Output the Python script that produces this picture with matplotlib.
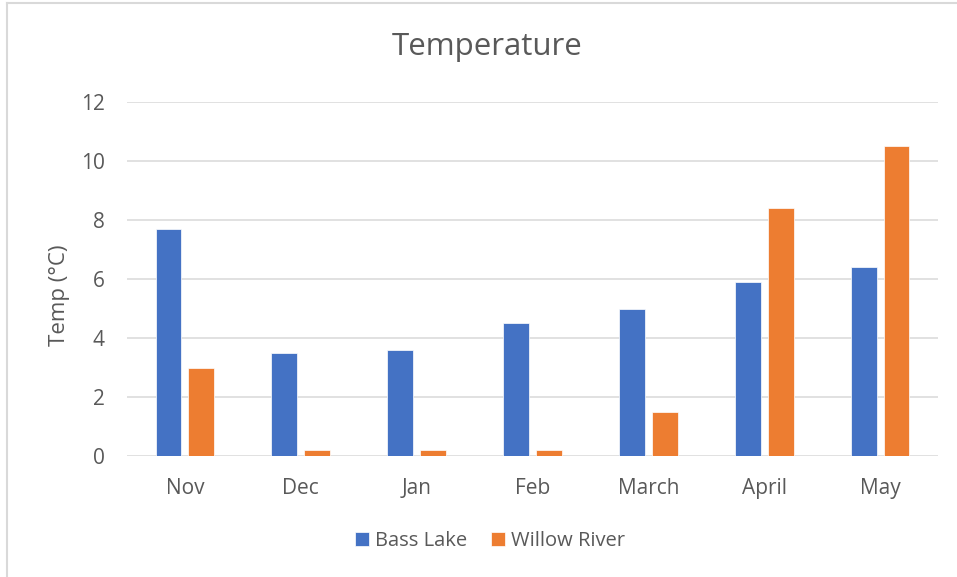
import matplotlib.pyplot as plt
import numpy as np
from matplotlib.lines import Line2D

months = ['Nov', 'Dec', 'Jan', 'Feb', 'March', 'April', 'May']
bass_lake = [7.7, 3.5, 3.6, 4.5, 5.0, 5.9, 6.4]
willow_river = [3.0, 0.2, 0.2, 0.2, 1.5, 8.4, 10.5]
y_ticks = [0, 2, 4, 6, 8, 10, 12]

text_color = '#595959'
plt.rcParams['font.family'] = ['Open Sans', 'DejaVu Sans']

fig = plt.figure(figsize=(9.57, 5.77), dpi=100)
ax = fig.add_axes([127/957, 121/577, 811/957, 354/577])

x = np.arange(len(months))
w = 0.224
off = 0.142
ax.bar(x - off, bass_lake, w, color='#4472C4', edgecolor='white', linewidth=0.5, label='Bass Lake', zorder=3)
ax.bar(x + off, willow_river, w, color='#ED7D31', edgecolor='white', linewidth=0.5, label='Willow River', zorder=3)

ax.set_xlim(-0.5, len(months) - 0.5)
ax.set_ylim(0, 12)
ax.set_yticks(y_ticks)
ax.set_xticks(x)
ax.set_xticklabels(months)
ax.tick_params(axis='both', length=0, labelsize=15, labelcolor=text_color)
ax.tick_params(axis='x', pad=16)
ax.tick_params(axis='y', pad=16)
ax.grid(axis='y', color='#d9d9d9', linewidth=1.1, zorder=0)
for s in ax.spines.values():
    s.set_visible(False)

# axis title and chart title
fig.text(60/957, 1 - 295/577, 'Temp (°C)', rotation=90, ha='center', va='center', fontsize=16, color=text_color)
fig.text(487/957, 1 - 47/577, 'Temperature', ha='center', va='center', fontsize=22.5, color=text_color)

fig.legend(loc='center', bbox_to_anchor=(490/957, 1 - 541/577), ncol=2, frameon=False,
           fontsize=14.5, labelcolor=text_color, handlelength=0.7, handleheight=0.7,
           handletextpad=0.3, columnspacing=1.2)

# light chart border
fig.add_artist(Line2D([7/957, 7/957], [0, 1 - 3/577], color='#d9d9d9', linewidth=1.5))
fig.add_artist(Line2D([7/957, 1], [1 - 3/577, 1 - 3/577], color='#d9d9d9', linewidth=1.5))

fig.savefig('out.png', dpi=100)
